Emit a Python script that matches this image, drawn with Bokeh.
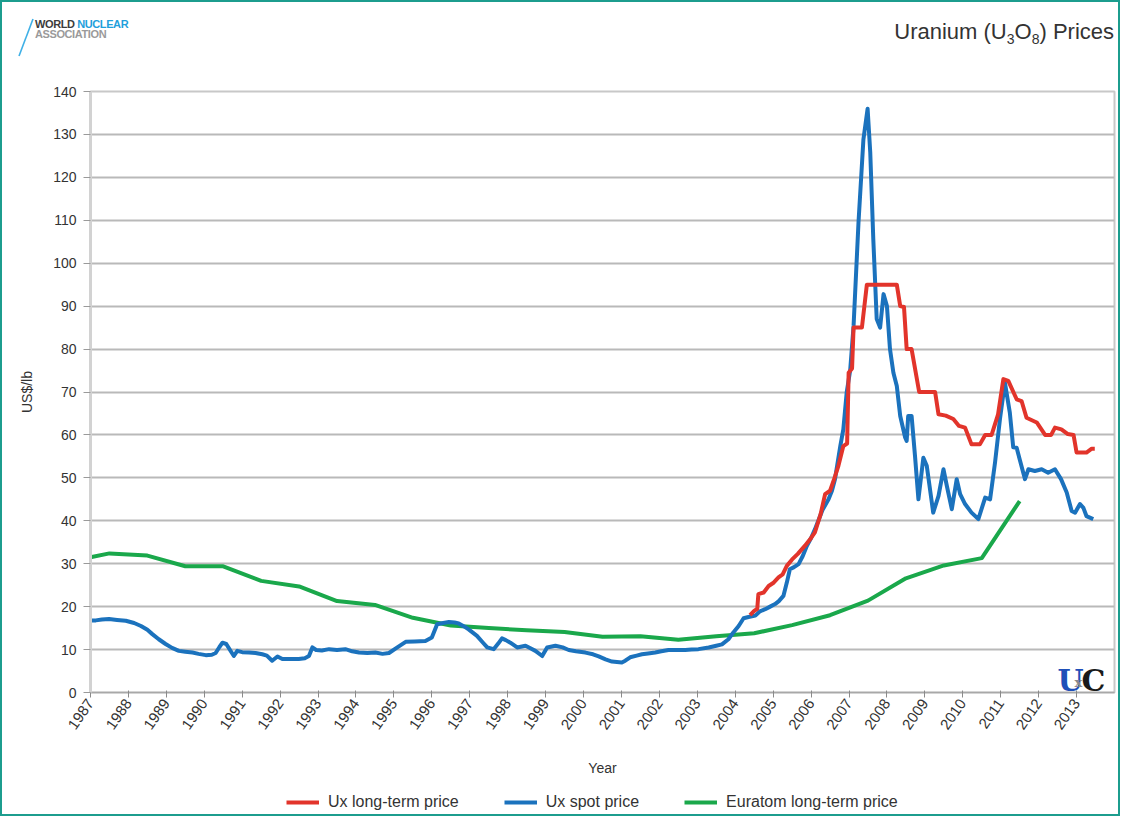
import math
from bokeh.plotting import figure
from bokeh.layouts import column
from bokeh.models import Range1d, FixedTicker, Label, Legend, LegendItem, Div
from bokeh.embed import file_html
from bokeh.resources import INLINE

# ---------------- data ----------------
spot_years = [
    1987.00, 1987.14, 1987.30, 1987.49, 1987.70, 1987.93, 1988.15, 1988.33, 1988.50, 1988.63,
    1988.80, 1988.98, 1989.15, 1989.33, 1989.50, 1989.69, 1989.85, 1990.04, 1990.20, 1990.30,
    1990.40, 1990.48, 1990.58, 1990.70, 1990.78, 1990.87, 1991.00, 1991.18, 1991.35, 1991.53,
    1991.65, 1991.79, 1991.93, 1992.06, 1992.25, 1992.49, 1992.65, 1992.76, 1992.85, 1992.95,
    1993.10, 1993.29, 1993.50, 1993.72, 1993.90, 1994.08, 1994.30, 1994.51, 1994.70, 1994.87,
    1995.09, 1995.31, 1995.55, 1995.83, 1996.00, 1996.14, 1996.30, 1996.45, 1996.60, 1996.71,
    1996.85, 1996.97, 1997.19, 1997.35, 1997.46, 1997.63, 1997.75, 1997.85, 1997.95, 1998.07,
    1998.25, 1998.47, 1998.60, 1998.73, 1998.91, 1999.04, 1999.26, 1999.45, 1999.61, 1999.80,
    2000.05, 2000.25, 2000.40, 2000.58, 2000.75, 2001.01, 2001.10, 2001.23, 2001.40, 2001.54,
    2001.70, 2001.89, 2002.05, 2002.24, 2002.45, 2002.68, 2002.85, 2003.03, 2003.30, 2003.50,
    2003.65, 2003.82, 2003.95, 2004.09, 2004.22, 2004.35, 2004.53, 2004.65, 2004.79, 2004.92,
    2005.05, 2005.15, 2005.27, 2005.36, 2005.44, 2005.55, 2005.67, 2005.78, 2005.89, 2006.00,
    2006.10, 2006.19, 2006.30, 2006.46, 2006.55, 2006.63, 2006.77, 2006.85, 2006.94, 2007.03,
    2007.12, 2007.25, 2007.38, 2007.49, 2007.56, 2007.64, 2007.73, 2007.82, 2007.91, 2008.00,
    2008.08, 2008.17, 2008.26, 2008.35, 2008.48, 2008.52, 2008.56, 2008.65, 2008.74, 2008.83,
    2008.96, 2009.05, 2009.22, 2009.36, 2009.49, 2009.58, 2009.71, 2009.84, 2009.93, 2010.06,
    2010.23, 2010.41, 2010.59, 2010.72, 2010.85, 2010.98, 2011.11, 2011.24, 2011.33, 2011.42,
    2011.51, 2011.64, 2011.73, 2011.90, 2012.08, 2012.25, 2012.43, 2012.59, 2012.74, 2012.87,
    2012.96, 2013.09, 2013.18, 2013.26, 2013.44,
]
spot_prices = [
    16.8, 16.8, 17.0, 17.1, 16.9, 16.7, 16.2, 15.5, 14.6, 13.6,
    12.4, 11.3, 10.4, 9.7, 9.5, 9.3, 9.0, 8.7, 8.8, 9.2,
    10.6, 11.6, 11.3, 9.6, 8.5, 9.7, 9.4, 9.3, 9.2, 8.9,
    8.6, 7.4, 8.4, 7.8, 7.8, 7.8, 8.0, 8.5, 10.5, 9.9,
    9.8, 10.1, 9.9, 10.1, 9.6, 9.3, 9.2, 9.3, 9.0, 9.2,
    10.5, 11.8, 11.9, 12.0, 12.8, 15.9, 16.2, 16.4, 16.3, 16.1,
    15.4, 14.7, 13.2, 11.6, 10.5, 10.1, 11.4, 12.6, 12.2, 11.6,
    10.5, 10.9, 10.3, 9.7, 8.5, 10.5, 10.9, 10.5, 9.9, 9.6,
    9.3, 8.9, 8.4, 7.7, 7.2, 7.0, 7.4, 8.2, 8.6, 8.9,
    9.1, 9.3, 9.6, 9.9, 9.9, 9.9, 10.0, 10.1, 10.5, 10.9,
    11.2, 12.4, 14.0, 15.5, 17.3, 17.6, 17.9, 18.9, 19.4, 20.0,
    20.6, 21.3, 22.5, 25.6, 28.7, 29.2, 29.9, 31.8, 34.2, 36.0,
    38.0, 40.0, 42.5, 45.0, 47.0, 49.7, 57.4, 61.3, 70.0, 75.0,
    85.4, 109.5, 128.9, 136.0, 125.8, 105.6, 87.0, 85.0, 92.8, 90.0,
    80.0, 74.5, 71.4, 64.4, 59.4, 58.6, 64.4, 64.4, 55.1, 45.0,
    54.7, 52.8, 41.9, 45.8, 52.0, 48.1, 42.7, 49.7, 46.2, 43.9,
    41.9, 40.4, 45.4, 45.0, 53.6, 63.7, 72.2, 65.2, 57.1, 57.0,
    54.0, 49.7, 52.0, 51.6, 52.0, 51.2, 52.0, 49.7, 46.6, 42.3,
    41.9, 43.9, 43.0, 41.1, 40.4,
]

lt_years = [
    2004.39, 2004.50, 2004.58, 2004.61, 2004.75, 2004.88, 2005.00, 2005.14, 2005.25, 2005.36,
    2005.50, 2005.65, 2005.84, 2006.00, 2006.10, 2006.25, 2006.37, 2006.50, 2006.60, 2006.72,
    2006.85, 2006.95, 2006.99, 2007.08, 2007.12, 2007.34, 2007.47, 2008.26, 2008.35, 2008.45,
    2008.52, 2008.65, 2008.85, 2009.27, 2009.36, 2009.55, 2009.75, 2009.90, 2010.06, 2010.23,
    2010.45, 2010.59, 2010.76, 2010.93, 2011.07, 2011.20, 2011.42, 2011.55, 2011.68, 2011.95,
    2012.17, 2012.33, 2012.43, 2012.60, 2012.77, 2012.92, 2013.00, 2013.26, 2013.40, 2013.48,
]
lt_prices = [
    18.0, 19.0, 19.5, 22.9, 23.3, 24.8, 25.5, 26.8, 27.5, 29.5,
    31.0, 32.3, 34.2, 36.0, 37.3, 41.5, 46.2, 47.0, 49.5, 52.8,
    57.4, 58.0, 74.5, 75.5, 85.0, 85.0, 95.0, 95.0, 90.0, 89.8,
    80.0, 80.0, 70.0, 70.0, 64.8, 64.5, 63.7, 62.1, 61.7, 57.8,
    57.8, 60.0, 60.0, 64.8, 73.0, 72.6, 68.3, 67.9, 64.0, 62.9,
    60.0, 60.0, 61.7, 61.3, 60.2, 60.0, 55.9, 55.9, 56.8, 56.8,
]

euratom_years = [
    1987.0, 1987.5, 1988.5, 1989.5, 1990.5, 1991.5, 1992.5, 1993.5, 1994.5, 1995.5,
    1996.5, 1997.5, 1998.5, 1999.5, 2000.5, 2001.5, 2002.5, 2003.5, 2004.5, 2005.5,
    2006.5, 2007.5, 2008.5, 2009.5, 2010.5, 2011.5,
]
euratom_prices = [
    31.5, 32.4, 31.9, 29.4, 29.4, 26.0, 24.7, 21.3, 20.4, 17.4,
    15.6, 15.0, 14.5, 14.1, 13.0, 13.1, 12.3, 13.1, 13.8, 15.7,
    18.0, 21.4, 26.6, 29.6, 31.3, 44.6,
]

series_names = ["Ux long-term price", "Ux spot price", "Euratom long-term price"]
year_ticks = list(range(1987, 2014))
price_ticks = list(range(0, 150, 10))

RED = "#e2342b"
BLUE = "#1b72bd"
GREEN = "#1aa84b"
FONT = "Liberation Sans"
W = 1116

# ---------------- header: logo + title (HTML text) ----------------
header_html = f"""
<div style="position:relative;width:{W}px;height:79px;font-family:'Liberation Sans',Arial,sans-serif;">
  <svg style="position:absolute;left:0;top:0" width="60" height="79">
    <line x1="17" y1="54" x2="31" y2="17" stroke="#3fb0e6" stroke-width="1.6"/>
  </svg>
  <div style="position:absolute;left:33px;top:17px;font-size:11px;line-height:11px;font-weight:bold;color:#3c3c3c;letter-spacing:-0.4px;white-space:nowrap;">WORLD <span style="color:#1ea0dc">NUCLEAR</span></div>
  <div style="position:absolute;left:33px;top:27px;font-size:11px;line-height:11px;font-weight:bold;color:#9a9a9a;letter-spacing:-0.4px;white-space:nowrap;">ASSOCIATION</div>
  <div style="position:absolute;right:4px;top:19px;font-size:22px;line-height:22px;color:#333333;white-space:nowrap;">Uranium (U<span style="font-size:14px;position:relative;top:5px;">3</span>O<span style="font-size:14px;position:relative;top:5px;">8</span>) Prices</div>
</div>
"""
header = Div(text=header_html, width=W, height=79, margin=0)

# ---------------- main chart ----------------
p = figure(
    frame_width=1024, frame_height=601,
    output_backend="svg", toolbar_location=None,
    x_range=Range1d(1987, 2014), y_range=Range1d(0, 140),
    min_border_left=88, min_border_right=4, min_border_top=10, min_border_bottom=90,
    background_fill_color="white", border_fill_color="white",
    outline_line_color="#c8c8c8", outline_line_width=2,
)

p.xgrid.visible = False
p.ygrid.grid_line_color = "#b9b9b9"
p.ygrid.grid_line_width = 2
p.ygrid.ticker = FixedTicker(ticks=price_ticks)

p.xaxis.ticker = FixedTicker(ticks=year_ticks)
p.xaxis.major_label_orientation = math.radians(55)
p.xaxis.axis_label = "Year"
p.xaxis.axis_line_color = "#a8a8a8"
p.xaxis.axis_line_width = 1.5
p.xaxis.major_tick_line_color = "#8a8a8a"
p.xaxis.major_tick_in = 2
p.xaxis.major_tick_out = 5
p.xaxis.minor_tick_line_color = None
p.xaxis.major_label_standoff = 3
p.xaxis.axis_label_standoff = 23

p.yaxis.ticker = FixedTicker(ticks=price_ticks)
p.yaxis.axis_label = "US$/lb"
p.yaxis.axis_line_color = "#d2d2d2"
p.yaxis.axis_line_width = 3
p.yaxis.major_tick_line_color = "#9a9a9a"
p.yaxis.major_tick_in = 0
p.yaxis.major_tick_out = 7
p.yaxis.minor_tick_line_color = None
p.yaxis.major_label_standoff = 7
p.yaxis.axis_label_standoff = 15

for ax in (p.xaxis[0], p.yaxis[0]):
    ax.major_label_text_font = FONT
    ax.major_label_text_font_size = "14px"
    ax.major_label_text_color = "#333333"
    ax.axis_label_text_font = FONT
    ax.axis_label_text_font_size = "14px"
    ax.axis_label_text_font_style = "normal"
    ax.axis_label_text_color = "#333333"
p.xaxis.major_label_text_font_size = "15px"

p.line(euratom_years, euratom_prices, line_color=GREEN, line_width=4, line_join="round")
p.line(spot_years, spot_prices, line_color=BLUE, line_width=4, line_join="round")
p.line(lt_years, lt_prices, line_color=RED, line_width=4, line_join="round")

# UxC mark inside the plot area
p.add_layout(Label(x=967, y=12, x_units="screen", y_units="screen", text="U",
                   text_baseline="alphabetic", text_font="DejaVu Serif", text_font_size="30px",
                   text_font_style="bold", text_color="#1f4fb8"))
p.add_layout(Label(x=984, y=10, x_units="screen", y_units="screen", text="x",
                   text_baseline="alphabetic", text_font="DejaVu Serif", text_font_size="13px",
                   text_font_style="bold", text_color="#8a8a8a"))
p.add_layout(Label(x=991, y=12, x_units="screen", y_units="screen", text="C",
                   text_baseline="alphabetic", text_font="DejaVu Serif", text_font_size="30px",
                   text_font_style="bold", text_color="#1a1a1a"))

# ---------------- footer: legend key ----------------
foot = figure(
    frame_width=1024, height=32, x_range=Range1d(0, 1), y_range=Range1d(0, 1),
    x_axis_location=None, y_axis_location=None,
    min_border_left=88, min_border_right=4, min_border_top=0, min_border_bottom=0,
    output_backend="svg", toolbar_location=None,
    background_fill_color="white", border_fill_color="white", outline_line_color=None,
)
foot.grid.visible = False
# key swatches (a point far outside the visible range, so only the legend shows them)
key_red = foot.line([-5, -4], [-5, -5], line_color=RED, line_width=4)
key_blue = foot.line([-5, -4], [-5, -5], line_color=BLUE, line_width=4)
key_green = foot.line([-5, -4], [-5, -5], line_color=GREEN, line_width=4)
legend = Legend(
    items=[LegendItem(label=series_names[0], renderers=[key_red]),
           LegendItem(label=series_names[1], renderers=[key_blue]),
           LegendItem(label=series_names[2], renderers=[key_green])],
    orientation="horizontal", location=(196, 3),
    glyph_width=33, glyph_height=12, label_standoff=9, spacing=45,
    label_text_font=FONT, label_text_font_size="16px", label_text_color="#333333",
    border_line_color=None, background_fill_alpha=0, padding=2, margin=0,
)
foot.add_layout(legend)

page = column(header, p, foot, spacing=0, styles={"border": "2px solid #1c9d8e"})
open("out.html", "w").write(file_html(page, INLINE))
